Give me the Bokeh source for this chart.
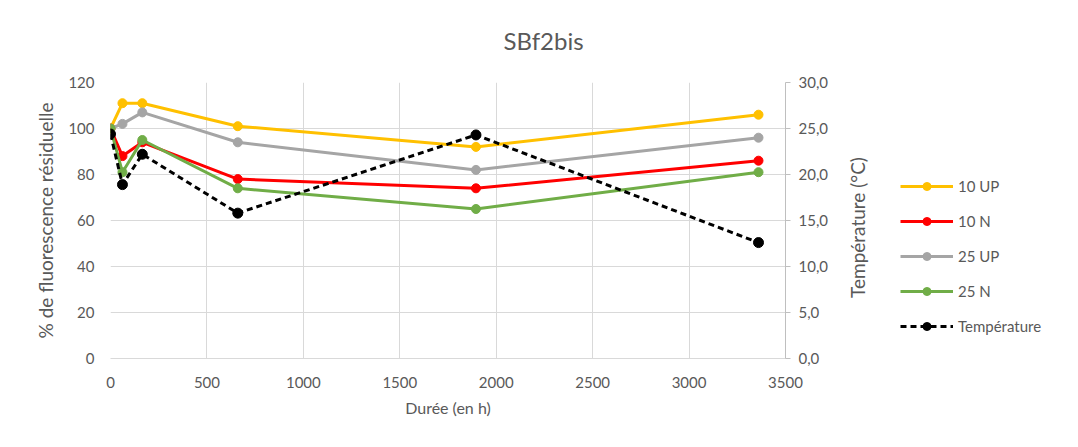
import math
from bokeh.plotting import figure
from bokeh.layouts import row
from bokeh.models import Range1d, LinearAxis, FixedTicker, Legend, LegendItem, Title, Label
from bokeh.embed import file_html
from bokeh.resources import INLINE

# Data
hours = [0, 62, 165, 660, 1895, 3360]
up10 = [100, 111, 111, 101, 92, 106]
n10 = [100, 88, 94, 78, 74, 86]
up25 = [100, 102, 107, 94, 82, 96]
n25 = [100, 81, 95, 74, 65, 81]
temperature = [24.4, 18.9, 22.2, 15.8, 24.3, 12.6]

x_ticks = [0, 500, 1000, 1500, 2000, 2500, 3000, 3500]
y_ticks = [0, 20, 40, 60, 80, 100, 120]
t_ticks = [0, 5, 10, 15, 20, 25, 30]
t_labels = ["0,0", "5,0", "10,0", "15,0", "20,0", "25,0", "30,0"]

FONT = "Lato"
TXT = "#595959"
GRID = "#d9d9d9"
TICK_FS = "15px"

W1, W2, H = 845, 233, 431
TOP, BOTTOM = 82, 73
FH = H - TOP - BOTTOM

p = figure(width=W1, height=H, output_backend="svg", toolbar_location=None,
           x_range=Range1d(0, 3500), y_range=Range1d(0, 120),
           min_border_left=110, min_border_right=60, min_border_top=TOP, min_border_bottom=BOTTOM)
p.extra_y_ranges = {"temp": Range1d(0, 30)}
p.outline_line_color = None
p.background_fill_color = "white"
p.border_fill_color = "white"

spacer = Title(text=" ", text_font_size="10px")
p.add_layout(spacer, "above")
title = Title(text="SBf2bis", align="left", offset=393, text_font=FONT,
              text_font_size="24px", text_font_style="normal", text_color=TXT)
p.add_layout(title, "above")

p.xaxis.ticker = FixedTicker(ticks=x_ticks)
p.yaxis.ticker = FixedTicker(ticks=y_ticks)
p.xgrid.ticker = FixedTicker(ticks=x_ticks)
p.ygrid.ticker = FixedTicker(ticks=y_ticks)
p.xgrid.grid_line_color = GRID
p.ygrid.grid_line_color = GRID

for ax in (p.xaxis[0], p.yaxis[0]):
    ax.major_label_text_font = FONT
    ax.major_label_text_font_size = TICK_FS
    ax.major_label_text_color = TXT
    ax.axis_label_text_font = FONT
    ax.axis_label_text_font_style = "normal"
    ax.axis_label_text_color = TXT
    ax.minor_tick_line_color = None
    ax.major_tick_line_color = None

p.xaxis.axis_label_text_font_size = "16px"
p.yaxis.axis_label_text_font_size = "19px"
p.xaxis.axis_line_color = GRID
p.yaxis.axis_line_color = None
p.xaxis.axis_label = "Durée (en h)"
p.yaxis.axis_label = "% de fluorescence résiduelle"
p.xaxis.major_label_standoff = 12
p.yaxis.major_label_standoff = 10
p.xaxis.axis_label_standoff = 7
p.yaxis.axis_label_standoff = 8

rax = LinearAxis(y_range_name="temp", ticker=FixedTicker(ticks=t_ticks),
                 major_label_overrides={t: l for t, l in zip(t_ticks, t_labels)})
rax.major_label_text_font = FONT
rax.major_label_text_font_size = TICK_FS
rax.major_label_text_color = TXT
rax.axis_line_color = "#bfbfbf"
rax.major_tick_line_color = "#bfbfbf"
rax.major_tick_in = 0
rax.major_tick_out = 5
rax.minor_tick_line_color = None
rax.major_label_standoff = 8
p.add_layout(rax, "right")

series = [("10 UP", up10, "#FFC000"), ("10 N", n10, "#FF0000"),
          ("25 UP", up25, "#A5A5A5"), ("25 N", n25, "#70AD47")]
for name, vals, col in series:
    p.line(hours, vals, line_color=col, line_width=3)
    p.scatter(hours, vals, size=9, fill_color=col, line_color=col)

p.line(hours, temperature, y_range_name="temp", line_color="black", line_width=3, line_dash="6 4")
p.scatter(hours, temperature, y_range_name="temp", size=10, fill_color="black", line_color="black")

# Right-hand panel: right axis title + legend (pixel coordinates of its frame)
q = figure(width=W2, height=H, output_backend="svg", toolbar_location=None,
           x_range=Range1d(0, W2), y_range=Range1d(0, FH),
           x_axis_location=None, y_axis_location=None,
           min_border_left=0, min_border_right=0, min_border_top=TOP, min_border_bottom=BOTTOM)
q.grid.visible = False
q.outline_line_color = None
q.extra_x_ranges = {"hidden": Range1d(-2, -1)}

items = []
for name, vals, col in series:
    l = q.line(hours, vals, x_range_name="hidden", line_color=col, line_width=3)
    c = q.scatter(hours, vals, x_range_name="hidden", size=9, fill_color=col, line_color=col)
    items.append(LegendItem(label=name, renderers=[l, c]))
lt = q.line(hours, temperature, x_range_name="hidden", line_color="black", line_width=3, line_dash="6 4")
ct = q.scatter(hours, temperature, x_range_name="hidden", size=10, fill_color="black", line_color="black")
items.append(LegendItem(label="Température", renderers=[lt, ct]))

legend = Legend(items=items, location=(55, 22), glyph_width=53, glyph_height=20,
                label_height=20, spacing=15, padding=0, margin=0, label_standoff=5,
                background_fill_alpha=0, border_line_color=None,
                label_text_font=FONT, label_text_font_size="15px", label_text_color=TXT)
q.add_layout(legend, "center")

rlabel = Label(x=12, y=(H - BOTTOM) - 227, text="Température (°C)", angle=math.pi / 2,
               text_align="center", text_baseline="middle", text_font=FONT,
               text_font_size="19px", text_color=TXT)
q.add_layout(rlabel)

layout = row(p, q, spacing=0)
open("out.html", "w").write(file_html(layout, INLINE))
